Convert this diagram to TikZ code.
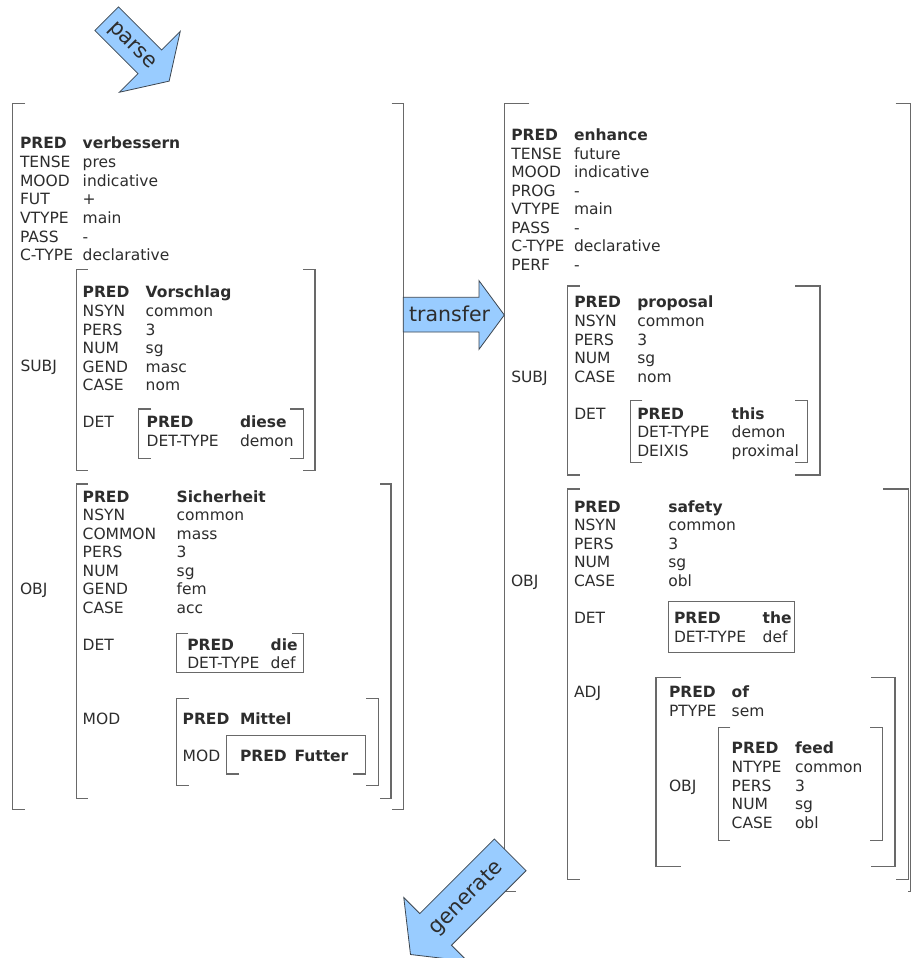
\documentclass[tikz,border=0pt]{standalone}
\usepackage{fontspec}
\setmainfont{DejaVu Sans}
\definecolor{arrowfill}{RGB}{153,204,255}
\definecolor{txtc}{RGB}{45,45,45}
\definecolor{brkc}{RGB}{105,105,105}
\definecolor{arrowline}{RGB}{60,70,80}
\newcounter{avn}
\newcommand{\avrow}[5]{\stepcounter{avn}%
  \node[lbl] (a\arabic{avn}) at (#1,#3) {#4};%
  \node[lbl] (v\arabic{avn}) at (#2,#3) {#5};}
\newcommand{\avbrow}[5]{\avrow{#1}{#2}{#3}{\bfseries #4}{\bfseries #5}}
\newcommand{\avbrk}[8]{%
  \draw[brkline] (#1+#5,#2) -- (#1,#2) -- (#1,#4) -- (#1+#6,#4);%
  \draw[brkline] (#3-#7,#2) -- (#3,#2) -- (#3,#4) -- (#3-#8,#4);}
\tikzset{
  lbl/.style={anchor=base west, inner sep=0pt, outer sep=0pt, text=txtc, font=\fontsize{15.5}{18.7}\selectfont},
  brkline/.style={draw=brkc, line width=1.2pt},
  bigarrow/.style={draw=arrowline, fill=arrowfill, line width=0.8pt, line join=miter},
  arrowlbl/.style={inner sep=0pt, text=txtc, font=\fontsize{21}{24}\selectfont}
}
\begin{document}
\begin{tikzpicture}[x=1pt,y=-1pt]
\useasboundingbox (0,0) rectangle (911,958);
\fill[white] (0,0) rectangle (911,958);

% ================= LEFT F-STRUCTURE =================
\avbrk{12.3}{103.3}{403.3}{809.5}{12.7}{12.7}{11.7}{11.7}
\avbrow{20}{82.7}{148.7}{PRED}{verbessern}
\avrow{20}{82.7}{167.4}{TENSE}{pres}
\avrow{20}{82.7}{186.1}{MOOD}{indicative}
\avrow{20}{82.7}{204.8}{FUT}{+}
\avrow{20}{82.7}{223.5}{VTYPE}{main}
\avrow{20}{82.7}{242.2}{PASS}{-}
\avrow{20}{82.7}{260.9}{C-TYPE}{declarative}

% SUBJ
\node[lbl] (lsubj) at (20.5,371.5) {SUBJ};
\avbrk{76.7}{269.3}{315}{470.7}{11}{11}{12}{12}
\avbrow{82.7}{145.7}{297.7}{PRED}{Vorschlag}
\avrow{82.7}{145.7}{316.4}{NSYN}{common}
\avrow{82.7}{145.7}{335.1}{PERS}{3}
\avrow{82.7}{145.7}{353.8}{NUM}{sg}
\avrow{82.7}{145.7}{372.3}{GEND}{masc}
\avrow{82.7}{145.7}{390.8}{CASE}{nom}
\node[lbl] (lsdet) at (82.7,427.7) {DET};
\avbrk{138.3}{409}{303.3}{458.3}{13}{13}{13}{13}
\avbrow{146.7}{240}{427.7}{PRED}{diese}
\avrow{146.7}{240}{446.2}{DET-TYPE}{demon}

% OBJ
\node[lbl] (lobj) at (20,594.3) {OBJ};
\avbrk{76.7}{484}{391}{798.3}{11}{11}{11}{11}
\avbrow{82.7}{176.7}{502}{PRED}{Sicherheit}
\avrow{82.7}{176.7}{520.5}{NSYN}{common}
\avrow{82.7}{176.7}{539}{COMMON}{mass}
\avrow{82.7}{176.7}{557.5}{PERS}{3}
\avrow{82.7}{176.7}{576}{NUM}{sg}
\avrow{82.7}{176.7}{594.5}{GEND}{fem}
\avrow{82.7}{176.7}{613}{CASE}{acc}
\node[lbl] (lodet) at (82.7,650) {DET};
\draw[brkline] (188,633.3) -- (176.7,633.3) -- (176.7,672.3) -- (303.3,672.3) -- (303.3,633.3) -- (292,633.3);
\avbrow{187.3}{270.7}{650}{PRED}{die}
\avrow{187.3}{270.7}{668.7}{DET-TYPE}{def}
\node[lbl] (lomod) at (82.7,724.3) {MOD};
\avbrk{176.7}{698.3}{378.3}{785.7}{12}{12}{12}{12}
\avbrow{182.7}{240}{724.3}{PRED}{Mittel}
\node[lbl] (lmmod) at (182.7,761.7) {MOD};
\draw[brkline] (239,774) -- (226.7,774) -- (226.7,735.7) -- (365.7,735.7) -- (365.7,774) -- (353.4,774);
\avbrow{240}{294.5}{761.7}{PRED}{Futter}

% ================= RIGHT F-STRUCTURE =================
\avbrk{504.3}{103.3}{910.6}{891.7}{25}{12}{15}{3}
\avbrow{511.3}{574}{140.3}{PRED}{enhance}
\avrow{511.3}{574}{159}{TENSE}{future}
\avrow{511.3}{574}{177.5}{MOOD}{indicative}
\avrow{511.3}{574}{196}{PROG}{-}
\avrow{511.3}{574}{214.5}{VTYPE}{main}
\avrow{511.3}{574}{233}{PASS}{-}
\avrow{511.3}{574}{251.7}{C-TYPE}{declarative}
\avrow{511.3}{574}{270.3}{PERF}{-}

% SUBJ
\node[lbl] (rsubj) at (511.3,382) {SUBJ};
\avbrk{567.7}{286}{820}{475}{12}{12}{25}{25}
\avbrow{574.3}{637.3}{307.7}{PRED}{proposal}
\avrow{574.3}{637.3}{326.3}{NSYN}{common}
\avrow{574.3}{637.3}{345}{PERS}{3}
\avrow{574.3}{637.3}{363.5}{NUM}{sg}
\avrow{574.3}{637.3}{382}{CASE}{nom}
\node[lbl] (rsdet) at (574.3,419.3) {DET};
\avbrk{630.3}{400.7}{807.3}{462.7}{12}{12}{12}{12}
\avbrow{637.3}{731.7}{419.3}{PRED}{this}
\avrow{637.3}{731.7}{437.8}{DET-TYPE}{demon}
\avrow{637.3}{731.7}{456.3}{DEIXIS}{proximal}

% OBJ
\node[lbl] (robj) at (511,586) {OBJ};
\avbrk{567.7}{489}{908.3}{879.3}{12}{12}{25}{12}
\avbrow{574}{668.3}{512}{PRED}{safety}
\avrow{574}{668.3}{530.5}{NSYN}{common}
\avrow{574}{668.3}{549}{PERS}{3}
\avrow{574}{668.3}{567.5}{NUM}{sg}
\avrow{574}{668.3}{586}{CASE}{obl}
\node[lbl] (rodet) at (574,623.3) {DET};
\draw[brkline] (668.3,601.7) rectangle (794.3,652.3);
\avbrow{674}{762.7}{623.3}{PRED}{the}
\avrow{674}{762.7}{642}{DET-TYPE}{def}
\node[lbl] (roadj) at (574,697.7) {ADJ};
\avbrk{656}{677.3}{895}{866.7}{25}{25}{24}{24}
\avbrow{669}{731.7}{697.7}{PRED}{of}
\avrow{669}{731.7}{716.5}{PTYPE}{sem}
\node[lbl] (raobj) at (669,791) {OBJ};
\avbrk{718.3}{727.7}{882.3}{840.7}{12}{12}{12}{12}
\avbrow{731.7}{795}{753.7}{PRED}{feed}
\avrow{731.7}{795}{772.3}{NTYPE}{common}
\avrow{731.7}{795}{791}{PERS}{3}
\avrow{731.7}{795}{809.5}{NUM}{sg}
\avrow{731.7}{795}{828}{CASE}{obl}

% ================= BLOCK ARROWS =================
% parse
\begin{scope}[shift={(106.7,18.7)}, rotate=-45]
  \path[bigarrow] (0,16.7) -- (61,16.7) -- (61,43) -- (88.3,0) -- (61,-43) -- (61,-16.7) -- (0,-16.7) -- cycle;
\end{scope}
\node[arrowlbl, rotate=-45] (parse) at (131.7,46.2) {parse};

% transfer
\path[bigarrow] (403.3,297.3) -- (479,297.3) -- (479,280.7) -- (504.3,315) -- (479,349.3) -- (479,332) -- (403.3,332) -- cycle;
\node[arrowlbl, anchor=base west, font=\fontsize{20.5}{24}\selectfont] (transfer) at (409,321.7) {transfer};

% generate
\begin{scope}[shift={(510.2,854.8)}, rotate=-135]
  \path[bigarrow] (0,22.4) -- (105.5,22.4) -- (105.5,45) -- (141,0) -- (105.5,-45) -- (105.5,-22.4) -- (0,-22.4) -- cycle;
\end{scope}
\node[arrowlbl, rotate=45] (generate) at (466.7,898.3) {generate};
\end{tikzpicture}
\end{document}
